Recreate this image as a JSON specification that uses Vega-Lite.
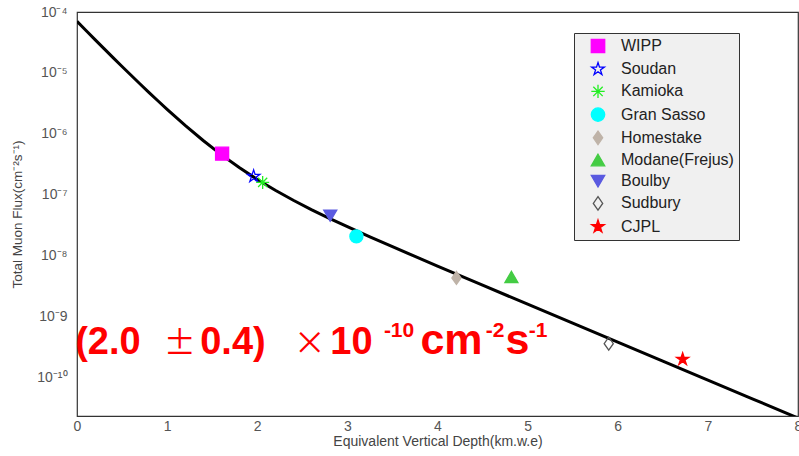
{
  "$schema": "https://vega.github.io/schema/vega-lite/v6.json",
  "width": 721,
  "height": 404,
  "autosize": "none",
  "padding": {"left": 77, "top": 12, "right": 1, "bottom": 40},
  "background": "white",
  "config": {
    "view": {"stroke": "#333", "strokeWidth": 1.2},
    "axis": {
      "grid": false,
      "domain": false,
      "ticks": false,
      "labelFont": "Liberation Sans",
      "titleFont": "Liberation Sans",
      "labelFontSize": 14,
      "titleFontSize": 14,
      "titleFontWeight": "normal",
      "labelColor": "#555",
      "titleColor": "#444",
      "labelOverlap": false,
      "labelFlush": false
    },
    "legend": {
      "orient": "none",
      "legendX": 497,
      "legendY": 21,
      "padding": 5,
      "fillColor": "#f0f0f0",
      "strokeColor": "#333",
      "labelFont": "Liberation Sans",
      "labelFontSize": 16,
      "labelColor": "#222",
      "symbolSize": 180,
      "symbolStrokeWidth": 1.3,
      "symbolOffset": 11,
      "labelOffset": 15,
      "rowPadding": 3.2,
      "symbolOpacity": 1
    }
  },
  "datasets": {
    "curve": [
      {"x": 0, "y": 7.004e-5},
      {"x": 0.1, "y": 4.964e-5},
      {"x": 0.2, "y": 3.525e-5},
      {"x": 0.3, "y": 2.507e-5},
      {"x": 0.4, "y": 1.787e-5},
      {"x": 0.5, "y": 1.277e-5},
      {"x": 0.6, "y": 9.156e-6},
      {"x": 0.7, "y": 6.589e-6},
      {"x": 0.8, "y": 4.763e-6},
      {"x": 0.9, "y": 3.461e-6},
      {"x": 1.0, "y": 2.529e-6},
      {"x": 1.2, "y": 1.380e-6},
      {"x": 1.4, "y": 7.788e-7},
      {"x": 1.6, "y": 4.571e-7},
      {"x": 1.8, "y": 2.799e-7},
      {"x": 2.0, "y": 1.789e-7},
      {"x": 2.2, "y": 1.188e-7},
      {"x": 2.4, "y": 8.149e-8},
      {"x": 2.6, "y": 5.738e-8},
      {"x": 2.8, "y": 4.119e-8},
      {"x": 3.0, "y": 2.999e-8},
      {"x": 3.25, "y": 2.046e-8},
      {"x": 3.5, "y": 1.408e-8},
      {"x": 3.75, "y": 9.75e-9},
      {"x": 4.0, "y": 6.777e-9},
      {"x": 4.5, "y": 3.294e-9},
      {"x": 5.0, "y": 1.606e-9},
      {"x": 5.5, "y": 7.835e-10},
      {"x": 6.0, "y": 3.826e-10},
      {"x": 6.5, "y": 1.868e-10},
      {"x": 7.0, "y": 9.12e-11},
      {"x": 7.5, "y": 4.454e-11},
      {"x": 8.0, "y": 2.175e-11}
    ],
    "labs": [
      {"site": "WIPP", "x": 1.61, "y": 4.73e-7},
      {"site": "Soudan", "x": 1.96, "y": 2.01e-7},
      {"site": "Kamioka", "x": 2.06, "y": 1.6e-7},
      {"site": "Gran Sasso", "x": 3.1, "y": 2.08e-8},
      {"site": "Homestake", "x": 4.21, "y": 4.33e-9},
      {"site": "Modane(Frejus)", "x": 4.82, "y": 4.49e-9},
      {"site": "Boulby", "x": 2.81, "y": 4.55e-8},
      {"site": "Sudbury", "x": 5.9, "y": 3.61e-10},
      {"site": "CJPL", "x": 6.72, "y": 2.0e-10}
    ],
    "yMajorTicks": [
      {"y": 1e-10}, {"y": 1e-9}, {"y": 1e-8}, {"y": 1e-7}, {"y": 1e-6}, {"y": 1e-5}, {"y": 1e-4}
    ],
    "yMinorTicks": [
      {"y": 3e-11}, {"y": 4e-11}, {"y": 5e-11}, {"y": 6e-11}, {"y": 7e-11}, {"y": 8e-11}, {"y": 9e-11},
      {"y": 2e-10}, {"y": 3e-10}, {"y": 4e-10}, {"y": 5e-10}, {"y": 6e-10}, {"y": 7e-10}, {"y": 8e-10}, {"y": 9e-10},
      {"y": 2e-9}, {"y": 3e-9}, {"y": 4e-9}, {"y": 5e-9}, {"y": 6e-9}, {"y": 7e-9}, {"y": 8e-9}, {"y": 9e-9},
      {"y": 2e-8}, {"y": 3e-8}, {"y": 4e-8}, {"y": 5e-8}, {"y": 6e-8}, {"y": 7e-8}, {"y": 8e-8}, {"y": 9e-8},
      {"y": 2e-7}, {"y": 3e-7}, {"y": 4e-7}, {"y": 5e-7}, {"y": 6e-7}, {"y": 7e-7}, {"y": 8e-7}, {"y": 9e-7},
      {"y": 2e-6}, {"y": 3e-6}, {"y": 4e-6}, {"y": 5e-6}, {"y": 6e-6}, {"y": 7e-6}, {"y": 8e-6}, {"y": 9e-6},
      {"y": 2e-5}, {"y": 3e-5}, {"y": 4e-5}, {"y": 5e-5}, {"y": 6e-5}, {"y": 7e-5}, {"y": 8e-5}, {"y": 9e-5}
    ],
    "xMajorTicks": [
      {"x": 1}, {"x": 2}, {"x": 3}, {"x": 4}, {"x": 5}, {"x": 6}, {"x": 7}
    ],
    "xMinorTicks": [
      {"x": 0.2}, {"x": 0.4}, {"x": 0.6}, {"x": 0.8}, {"x": 1.2}, {"x": 1.4}, {"x": 1.6}, {"x": 1.8},
      {"x": 2.2}, {"x": 2.4}, {"x": 2.6}, {"x": 2.8}, {"x": 3.2}, {"x": 3.4}, {"x": 3.6}, {"x": 3.8},
      {"x": 4.2}, {"x": 4.4}, {"x": 4.6}, {"x": 4.8}, {"x": 5.2}, {"x": 5.4}, {"x": 5.6}, {"x": 5.8},
      {"x": 6.2}, {"x": 6.4}, {"x": 6.6}, {"x": 6.8}, {"x": 7.2}, {"x": 7.4}, {"x": 7.6}, {"x": 7.8}
    ],
    "noteDigits": [
      {"t": "(2.0", "x": -0.02, "y": 2.45e-10},
      {"t": "0.4)", "x": 1.367, "y": 2.45e-10},
      {"t": "10", "x": 2.81, "y": 2.45e-10}
    ],
    "noteUnits": [
      {"t": "cm", "x": 3.81, "y": 2.45e-10},
      {"t": "s", "x": 4.755, "y": 2.45e-10}
    ],
    "noteOps": [
      {"t": "±", "x": 0.962, "y": 2.45e-10},
      {"t": "×", "x": 2.405, "y": 2.45e-10}
    ],
    "noteExp": [
      {"t": "-10", "x": 3.405, "y": 4.65e-10},
      {"t": "-2", "x": 4.536, "y": 4.65e-10},
      {"t": "-1", "x": 5.013, "y": 4.65e-10}
    ]
  },
  "encoding": {
    "x": {
      "field": "x",
      "type": "quantitative",
      "title": "Equivalent Vertical Depth(km.w.e)",
      "scale": {"domain": [0, 8], "nice": false, "zero": false},
      "axis": {
        "values": [0, 1, 2, 3, 4, 5, 6, 7, 8],
        "format": "d",
        "labelPadding": 3,
        "titlePadding": 1
      }
    },
    "y": {
      "field": "y",
      "type": "quantitative",
      "title": "Total Muon Flux(cm⁻²s⁻¹)",
      "scale": {"type": "log", "domain": [2.35e-11, 1e-4], "nice": false},
      "axis": {
        "values": [1e-10, 1e-9, 1e-8, 1e-7, 1e-6, 1e-5, 1e-4],
        "labelExpr": "'10' + replace(replace(replace(replace(replace(replace(replace('' + round(log(datum.value)/LN10), '-', '⁻'), '10', '¹⁰'), '4', '⁴'), '5', '⁵'), '6', '⁶'), '7', '⁷'), '8', '⁸')",
        "labelPadding": 10,
        "titlePadding": 12,
        "titleFontSize": 13.5
      }
    }
  },
  "layer": [
    {
      "data": {"name": "curve"},
      "mark": {"type": "line", "color": "black", "strokeWidth": 3, "clip": true}
    },
    {
      "data": {"name": "labs"},
      "mark": {"type": "point", "size": 170, "opacity": 1, "strokeWidth": 1.3},
      "encoding": {
        "shape": {
          "field": "site", "type": "nominal", "title": null,
          "scale": {
            "domain": ["WIPP", "Soudan", "Kamioka", "Gran Sasso", "Homestake", "Modane(Frejus)", "Boulby", "Sudbury", "CJPL"],
            "range": [
              "square",
              "M0,-1L0.2245,-0.309L0.9511,-0.309L0.3633,0.118L0.5878,0.809L0,0.382L-0.5878,0.809L-0.3633,0.118L-0.9511,-0.309L-0.2245,-0.309Z",
              "M-1,0L1,0M0,-1L0,1M-0.7,-0.7L0.7,0.7M-0.7,0.7L0.7,-0.7",
              "circle",
              "M0,-1L0.7,0L0,1L-0.7,0Z",
              "triangle-up",
              "triangle-down",
              "M0,-1L0.7,0L0,1L-0.7,0Z",
              "M0,-1L0.2245,-0.309L0.9511,-0.309L0.3633,0.118L0.5878,0.809L0,0.382L-0.5878,0.809L-0.3633,0.118L-0.9511,-0.309L-0.2245,-0.309Z"
            ]
          }
        },
        "fill": {
          "field": "site", "type": "nominal", "title": null,
          "scale": {
            "domain": ["WIPP", "Soudan", "Kamioka", "Gran Sasso", "Homestake", "Modane(Frejus)", "Boulby", "Sudbury", "CJPL"],
            "range": ["#ff00ff", "transparent", "transparent", "#00ffff", "#bfb3a8", "#44cc44", "#5a5ae0", "transparent", "#ff0000"]
          }
        },
        "stroke": {
          "field": "site", "type": "nominal", "title": null,
          "scale": {
            "domain": ["WIPP", "Soudan", "Kamioka", "Gran Sasso", "Homestake", "Modane(Frejus)", "Boulby", "Sudbury", "CJPL"],
            "range": ["#ff00ff", "#0000ff", "#22ee22", "#00ffff", "#bfb3a8", "#44cc44", "#5a5ae0", "#555555", "#ff0000"]
          }
        }
      }
    },
    {
      "data": {"name": "noteDigits"},
      "mark": {"type": "text", "align": "left", "baseline": "alphabetic", "font": "Liberation Sans", "fontWeight": "bold", "fontSize": 38, "color": "#ff0000"},
      "encoding": {"text": {"field": "t"}}
    },
    {
      "data": {"name": "noteUnits"},
      "mark": {"type": "text", "align": "left", "baseline": "alphabetic", "font": "Liberation Sans", "fontWeight": "bold", "fontSize": 43, "color": "#ff0000"},
      "encoding": {"text": {"field": "t"}}
    },
    {
      "data": {"name": "noteOps"},
      "mark": {"type": "text", "align": "left", "baseline": "alphabetic", "font": "Noto Sans CJK SC", "fontWeight": "normal", "fontSize": 32, "color": "#ff0000"},
      "encoding": {"text": {"field": "t"}}
    },
    {
      "data": {"name": "noteExp"},
      "mark": {"type": "text", "align": "left", "baseline": "alphabetic", "font": "Liberation Sans", "fontWeight": "bold", "fontSize": 21, "color": "#ff0000"},
      "encoding": {"text": {"field": "t"}}
    },
    {
      "data": {"name": "yMajorTicks"},
      "mark": {"type": "tick", "orient": "horizontal", "size": 22, "thickness": 1.2, "xOffset": 11, "color": "#333", "opacity": 1},
      "encoding": {"x": {"datum": 0}}
    },
    {
      "data": {"name": "yMinorTicks"},
      "mark": {"type": "tick", "orient": "horizontal", "size": 11, "thickness": 1.2, "xOffset": 5.5, "color": "#333", "opacity": 1},
      "encoding": {"x": {"datum": 0}}
    },
    {
      "data": {"name": "xMajorTicks"},
      "mark": {"type": "tick", "orient": "vertical", "size": 12, "thickness": 1.2, "yOffset": -6, "color": "#333", "opacity": 1},
      "encoding": {"y": {"datum": 2.35e-11}}
    },
    {
      "data": {"name": "xMinorTicks"},
      "mark": {"type": "tick", "orient": "vertical", "size": 7, "thickness": 1.2, "yOffset": -3.5, "color": "#333", "opacity": 1},
      "encoding": {"y": {"datum": 2.35e-11}}
    }
  ]
}
